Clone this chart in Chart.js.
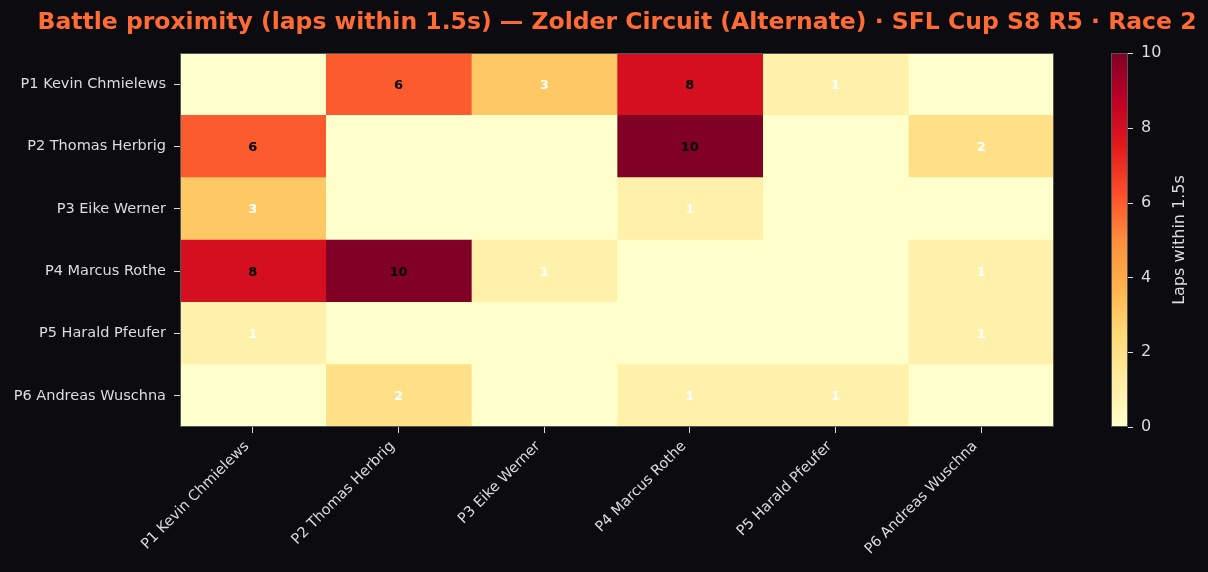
<!DOCTYPE html>
<html>
<head>
<meta charset="utf-8">
<script src="https://cdn.jsdelivr.net/npm/chart.js@4"></script>
<style>
  html, body { margin: 0; padding: 0; background: #0b0b10; }
  #wrap { width: 1208px; height: 572px; }
</style>
</head>
<body>
<div id="wrap"><canvas id="heat" width="1208" height="572"></canvas></div>
<script>
const drivers = [
  "P1 Kevin Chmielews",
  "P2 Thomas Herbrig",
  "P3 Eike Werner",
  "P4 Marcus Rothe",
  "P5 Harald Pfeufer",
  "P6 Andreas Wuschna",
];

// laps within 1.5s, row = driver, column = other driver
const row_p1 = [0, 6, 3, 8, 1, 0];
const row_p2 = [6, 0, 0, 10, 0, 2];
const row_p3 = [3, 0, 0, 1, 0, 0];
const row_p4 = [8, 10, 1, 0, 0, 1];
const row_p5 = [1, 0, 0, 0, 0, 1];
const row_p6 = [0, 2, 0, 1, 1, 0];
const laps = [row_p1, row_p2, row_p3, row_p4, row_p5, row_p6];

const cbTicks = [0, 2, 4, 6, 8, 10];
const vmax = 10;

const titleText = "Battle proximity (laps within 1.5s) \u2014 Zolder Circuit (Alternate) \u00b7 SFL Cup S8 R5 \u00b7 Race 2";
const cbTitle = "Laps within 1.5s";

// YlOrRd
const ylorrd = ["#ffffcc", "#ffeda0", "#fed976", "#feb24c", "#fd8d3c", "#fc4e2a", "#e31a1c", "#bd0026", "#800026"];

function hexToRgb(h) {
  return [parseInt(h.slice(1, 3), 16), parseInt(h.slice(3, 5), 16), parseInt(h.slice(5, 7), 16)];
}

function colorFor(v) {
  let t = Math.max(0, Math.min(1, v / vmax)) * (ylorrd.length - 1);
  let i = Math.min(Math.floor(t), ylorrd.length - 2);
  let f = t - i;
  let a = hexToRgb(ylorrd[i]), b = hexToRgb(ylorrd[i + 1]);
  let c = a.map((x, k) => Math.round(x + (b[k] - x) * f));
  return "rgb(" + c.join(",") + ")";
}

// one dataset per column, floating bar [j, j+1] for every row
const datasets = drivers.map((name, j) => ({
  label: name,
  data: drivers.map((rowName) => ({ x: [j, j + 1], y: rowName })),
  backgroundColor: laps.map((row) => colorFor(row[j])),
  borderWidth: 0,
  grouped: false,
  barPercentage: 1.0,
  categoryPercentage: 1.0,
}));

const bgPlugin = {
  id: "bg",
  beforeDraw(chart) {
    const ctx = chart.ctx;
    ctx.save();
    ctx.fillStyle = "#0b0b10";
    ctx.fillRect(0, 0, chart.width, chart.height);
    ctx.restore();
  },
};

const cellText = {
  id: "cellText",
  afterDatasetsDraw(chart) {
    const ctx = chart.ctx;
    const xs = chart.scales.x, ys = chart.scales.y;
    const a = chart.chartArea;
    ctx.save();
    ctx.font = "bold 13px 'DejaVu Sans'";
    ctx.textAlign = "center";
    ctx.textBaseline = "middle";
    laps.forEach((row, r) => {
      row.forEach((v, j) => {
        if (!v) return;
        ctx.fillStyle = v > vmax / 2 ? "#000000" : "#ffffff";
        ctx.fillText(String(v), xs.getPixelForValue(j + 0.5), ys.getPixelForValue(r) + 1);
      });
    });
    // spines
    ctx.strokeStyle = "#555555";
    ctx.lineWidth = 1;
    ctx.strokeRect(a.left + 0.5, a.top + 0.5, a.right - a.left - 1, a.bottom - a.top - 1);
    ctx.restore();
  },
};

const colorbar = {
  id: "colorbar",
  afterDraw(chart) {
    const ctx = chart.ctx;
    const cb = chart.scales.cb;
    const a = chart.chartArea;
    const x0 = a.right + 57, w = 17;
    const yTop = cb.getPixelForValue(vmax), yBot = cb.getPixelForValue(0);
    ctx.save();
    // title centred over the heatmap
    ctx.fillStyle = "#ff6b35";
    ctx.font = "bold 23.5px 'DejaVu Sans'";
    ctx.textAlign = "center";
    ctx.textBaseline = "middle";
    ctx.fillText(titleText, (a.left + a.right) / 2, 23);

    const g = ctx.createLinearGradient(0, yBot, 0, yTop);
    ylorrd.forEach((c, i) => g.addColorStop(i / (ylorrd.length - 1), c));
    ctx.fillStyle = g;
    ctx.fillRect(x0, yTop, w, yBot - yTop);
    ctx.strokeStyle = "#555555";
    ctx.lineWidth = 1;
    ctx.strokeRect(x0 + 0.5, yTop + 0.5, w - 1, yBot - yTop - 1);
    ctx.strokeStyle = "#dddddd";
    cbTicks.forEach((t) => {
      const y = Math.round(cb.getPixelForValue(t)) + 0.5;
      ctx.beginPath();
      ctx.moveTo(x0 + w, y);
      ctx.lineTo(x0 + w + 5, y);
      ctx.stroke();
    });
    ctx.translate(1180, (yTop + yBot) / 2);
    ctx.rotate(-Math.PI / 2);
    ctx.fillStyle = "#dddddd";
    ctx.font = "16px 'DejaVu Sans'";
    ctx.fillText(cbTitle, 0, 0);
    ctx.restore();
  },
};

const ctx = document.getElementById("heat").getContext("2d");
const chart = new Chart(ctx, {
  type: "bar",
  data: { labels: drivers, datasets: datasets },
  plugins: [bgPlugin, cellText, colorbar],
  options: {
    indexAxis: "y",
    responsive: false,
    animation: false,
    events: [],
    layout: { padding: { left: 0, right: 0, top: 53, bottom: 0 } },
    plugins: {
      legend: { display: false },
      tooltip: { enabled: false },
      title: { display: false },
    },
    scales: {
      x: {
        type: "linear",
        min: 0,
        max: drivers.length,
        afterBuildTicks(scale) {
          scale.ticks = drivers.map((d, i) => ({ value: i + 0.5 }));
        },
        afterFit(scale) {
          scale.height = 145;
        },
        ticks: {
          autoSkip: false,
          minRotation: 45,
          maxRotation: 45,
          color: "#dddddd",
          padding: 5,
          labelOffset: -6,
          font: { family: "DejaVu Sans", size: 14.5 },
          callback: (v, i) => drivers[i],
        },
        grid: { drawOnChartArea: false, tickLength: 6, tickColor: "#dddddd" },
        border: { display: false },
      },
      y: {
        type: "category",
        afterFit(scale) {
          scale.width = 180;
        },
        ticks: {
          color: "#dddddd",
          padding: 8,
          font: { family: "DejaVu Sans", size: 14.5 },
        },
        grid: { drawOnChartArea: false, tickLength: 6, tickColor: "#dddddd", offset: false },
        border: { display: false },
      },
      cb: {
        type: "linear",
        position: "right",
        offset: false,
        min: 0,
        max: vmax,
        afterBuildTicks(scale) {
          scale.ticks = cbTicks.map((t) => ({ value: t }));
        },
        afterFit(scale) {
          scale.width = 154;
        },
        ticks: {
          color: "#dddddd",
          padding: 3,
          font: { family: "DejaVu Sans", size: 16 },
        },
        grid: { display: true, offset: false, drawOnChartArea: false, drawTicks: true, tickLength: 84, tickColor: "rgba(0,0,0,0)" },
        border: { display: false },
      },
    },
  },
});
</script>
</body>
</html>
